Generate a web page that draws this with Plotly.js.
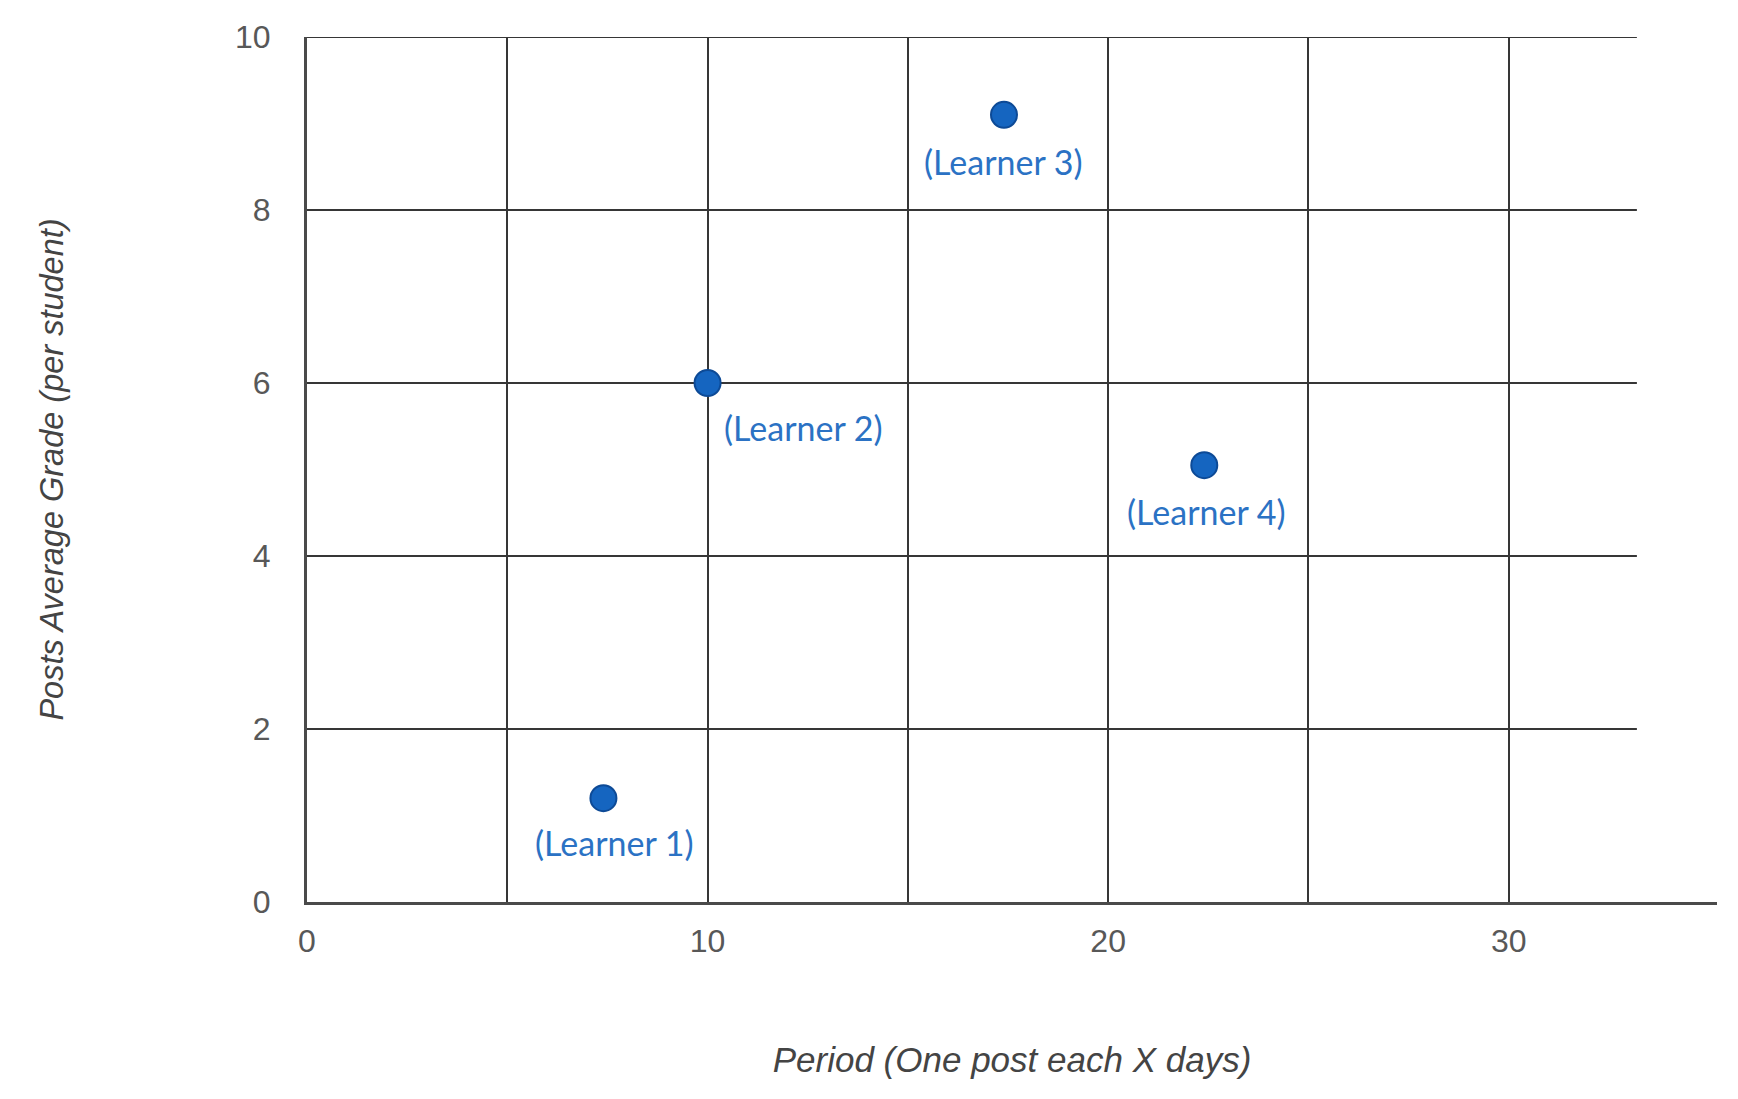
<!DOCTYPE html>
<html>
<head>
<meta charset="utf-8">
<script src="https://cdn.plot.ly/plotly-3.0.1.min.js"></script>
<style>
  html, body { margin: 0; padding: 0; background: #fff; }
  #chart { width: 1738px; height: 1099px; }
</style>
</head>
<body>
<div id="chart"></div>
<script>
// ---- data ----
const learners = ["(Learner 1)", "(Learner 2)", "(Learner 3)", "(Learner 4)"];
const periodDays = [7.4, 10, 17.4, 22.4];
const avgGrade = [1.2, 6.0, 9.1, 5.05];

// ---- axis ticks ----
const xTickVals = [0, 10, 20, 30];
const xMinorGrid = [5, 15, 25];
const yTickVals = [0, 2, 4, 6, 8, 10];
const yGridLines = [2, 4, 6, 8, 10];
const gridEndX = 33.2;

// label offsets (px) for each learner label
const labelDx = [11, 96, 0, 2];
const labelDy = [-44, -44, -47, -46];

const gridColor = "#363636";

const trace = {
  type: "scatter",
  mode: "markers",
  x: periodDays,
  y: avgGrade,
  marker: {
    symbol: "circle",
    size: 26,
    color: "#1565c0",
    line: { color: "#0d4a96", width: 2 }
  },
  hoverinfo: "skip",
  cliponaxis: false,
  showlegend: false
};

const annotations = learners.map((t, i) => ({
  x: periodDays[i],
  y: avgGrade[i],
  xref: "x",
  yref: "y",
  text: t,
  showarrow: false,
  xanchor: "center",
  yanchor: "middle",
  xshift: labelDx[i],
  yshift: labelDy[i],
  font: { family: "Lato, 'Open Sans', sans-serif", size: 34, color: "#2b72c4" }
}));

const shapes = yGridLines.map(v => ({
  type: "line",
  xref: "x",
  yref: "y",
  x0: 0,
  x1: gridEndX,
  y0: v,
  y1: v,
  line: { color: gridColor, width: 2 },
  layer: "below"
}));

const tickFont = { family: "'Liberation Sans', Arial, sans-serif", size: 32, color: "#585858" };
const xTitleFont = { family: "'Liberation Sans', Arial, sans-serif", size: 35, color: "#444444", style: "italic" };
const yTitleFont = { family: "'Liberation Sans', Arial, sans-serif", size: 32.5, color: "#444444", style: "italic" };

const layout = {
  width: 1738,
  height: 1099,
  margin: { l: 307, r: 21, t: 37, b: 197 },
  paper_bgcolor: "#ffffff",
  plot_bgcolor: "#ffffff",
  showlegend: false,
  xaxis: {
    range: [0, 35.2],
    tickmode: "array",
    tickvals: xTickVals,
    ticks: "",
    ticklabelstandoff: 9,
    tickfont: tickFont,
    showgrid: true,
    gridcolor: gridColor,
    gridwidth: 2,
    minor: { tickmode: "array", tickvals: xMinorGrid, showgrid: true, gridcolor: gridColor, gridwidth: 2, ticks: "" },
    showline: true,
    linecolor: "#4a4a4a",
    linewidth: 3,
    zeroline: false,
    fixedrange: true,
    title: { text: "Period (One post each X days)", font: xTitleFont, standoff: 90 }
  },
  yaxis: {
    range: [0, 10],
    tickmode: "array",
    tickvals: yTickVals,
    ticks: "",
    ticklabelstandoff: 27,
    tickfont: tickFont,
    showgrid: false,
    showline: true,
    linecolor: "#4a4a4a",
    linewidth: 3,
    zeroline: false,
    fixedrange: true,
    title: { text: "Posts Average Grade (per student)", font: yTitleFont, standoff: 162 }
  },
  shapes: shapes,
  annotations: annotations
};

Plotly.newPlot("chart", [trace], layout, { displayModeBar: false, staticPlot: true });
</script>
</body>
</html>
